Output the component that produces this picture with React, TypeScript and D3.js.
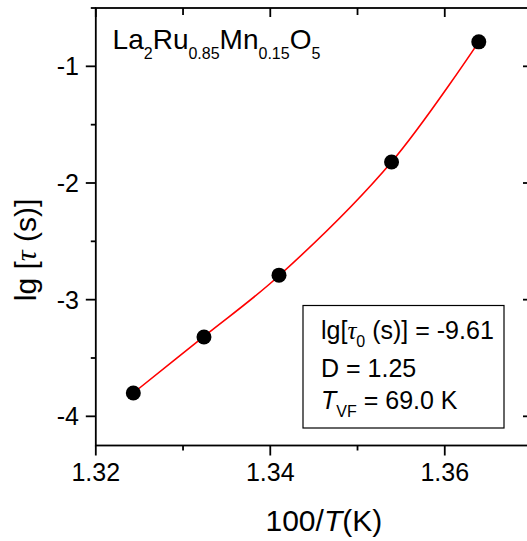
import React from "react";
import * as d3 from "d3";

const xValues = [1.3243, 1.3324, 1.341, 1.3539, 1.3639];
const yValues = [-3.8, -3.32, -2.79, -1.82, -0.79];
const fitX = [1.3243, 1.3324, 1.341, 1.3539, 1.3639];
const fitY = [-3.8, -3.315, -2.795, -1.82, -0.79];
const xMajorTicks = [1.32, 1.34, 1.36];
const xMinorTicks = [1.33, 1.35, 1.37];
const yMajorTicks = [-4, -3, -2, -1];
const yMinorTicks = [-3.5, -2.5, -1.5, -0.5];

const W = 527;
const H = 541;
const FONT = "'Liberation Sans', Arial, sans-serif";
const SERIF = "'Liberation Serif', 'Times New Roman', serif";

export default function App() {
  React.useEffect(() => {
    document.body.style.margin = "0";
  }, []);
  const x = d3.scaleLinear().domain([1.32, 1.37]).range([95.8, 532]);
  const y = d3.scaleLinear().domain([-4.25, -0.5]).range([445.5, 8]);
  const x0 = x.range()[0];
  const x1 = x.range()[1];
  const y0 = y.range()[0];
  const y1 = y.range()[1];
  const line = d3
    .line<number>()
    .x((_, i) => x(fitX[i]))
    .y((d) => y(d))
    .curve(d3.curveCatmullRom.alpha(0.5));
  const sw = 1.8;
  return (
    <svg width={W} height={H} style={{ position: "absolute", left: 0, top: 0, background: "#fff" }}>
      <rect x={0} y={0} width={W} height={H} fill="#fff" />
      {/* frame */}
      <rect x={x0} y={y1} width={x1 - x0} height={y0 - y1} fill="none" stroke="#000" strokeWidth={sw} />
      {/* bottom ticks (outward) and top ticks (inward) */}
      {xMajorTicks.map((t) => (
        <g key={"xm" + t}>
          <line x1={x(t)} x2={x(t)} y1={y0} y2={y0 + 10} stroke="#000" strokeWidth={sw} />
          <line x1={x(t)} x2={x(t)} y1={y1} y2={y1 + 9} stroke="#000" strokeWidth={sw} />
          <text x={x(t)} y={481} fontSize={25} fontFamily={FONT} textAnchor="middle">
            {d3.format(".2f")(t)}
          </text>
        </g>
      ))}
      {xMinorTicks.map((t) => (
        <g key={"xn" + t}>
          <line x1={x(t)} x2={x(t)} y1={y0} y2={y0 + 5} stroke="#000" strokeWidth={sw} />
          <line x1={x(t)} x2={x(t)} y1={y1} y2={y1 + 7} stroke="#000" strokeWidth={sw} />
        </g>
      ))}
      {yMajorTicks.map((t) => (
        <g key={"ym" + t}>
          <line x1={x0 - 10} x2={x0} y1={y(t)} y2={y(t)} stroke="#000" strokeWidth={sw} />
          <line x1={x1 - 9} x2={x1} y1={y(t)} y2={y(t)} stroke="#000" strokeWidth={sw} />
          <text x={79} y={y(t) + 9} fontSize={25} fontFamily={FONT} textAnchor="end">
            {d3.format("d")(t).replace("−", "-")}
          </text>
        </g>
      ))}
      {yMinorTicks.map((t) => (
        <g key={"yn" + t}>
          <line x1={x0 - 5} x2={x0} y1={y(t)} y2={y(t)} stroke="#000" strokeWidth={sw} />
          <line x1={x1 - 5} x2={x1} y1={y(t)} y2={y(t)} stroke="#000" strokeWidth={sw} />
        </g>
      ))}
      {/* fit curve */}
      <path d={line(fitY) || ""} fill="none" stroke="#ff0000" strokeWidth={1.6} />
      {/* data points */}
      {xValues.map((v, i) => (
        <circle key={"p" + i} cx={x(v)} cy={y(yValues[i])} r={7.5} fill="#000" />
      ))}
      {/* sample label */}
      <text x={112.6} y={49.3} fontSize={28} fontFamily={FONT}>
        La<tspan fontSize={16} dy={10}>2</tspan>
        <tspan dy={-10}>Ru</tspan>
        <tspan fontSize={16} dy={10}>0.85</tspan>
        <tspan dy={-10}>Mn</tspan>
        <tspan fontSize={16} dy={10}>0.15</tspan>
        <tspan dy={-10}>O</tspan>
        <tspan fontSize={16} dy={10}>5</tspan>
      </text>
      {/* parameter box */}
      <rect x={303} y={305.5} width={201} height={122.5} fill="#fff" stroke="#000" strokeWidth={1.2} />
      <text x={321} y={339} fontSize={25} fontFamily={FONT}>
        lg[<tspan fontFamily={SERIF} fontStyle="italic">τ</tspan>
        <tspan fontSize={16} dy={8}>0</tspan>
        <tspan dy={-8}> (s)] = -9.61</tspan>
      </text>
      <text x={321} y={377} fontSize={25} fontFamily={FONT}>
        D = 1.25
      </text>
      <text x={321} y={409} fontSize={25} fontFamily={FONT}>
        <tspan fontStyle="italic">T</tspan>
        <tspan fontSize={16} dy={8}>VF</tspan>
        <tspan dy={-8}> = 69.0 K</tspan>
      </text>
      {/* axis titles */}
      <text x={265.5} y={531} fontSize={30} fontFamily={FONT}>
        100/<tspan fontStyle="italic">T</tspan>(K)
      </text>
      <text
        transform={`translate(36, 250) rotate(-90)`}
        fontSize={30}
        fontFamily={FONT}
        textAnchor="middle"
      >
        lg [<tspan fontFamily={SERIF} fontStyle="italic">τ</tspan> (s)]
      </text>
    </svg>
  );
}
